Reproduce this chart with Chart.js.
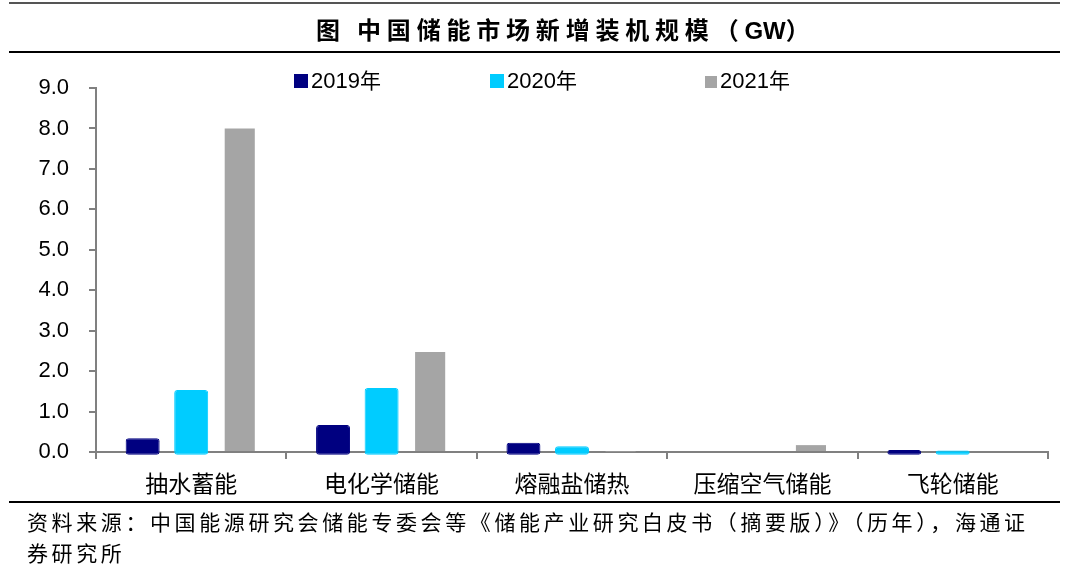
<!DOCTYPE html>
<html>
<head>
<meta charset="utf-8">
<script src="https://cdn.jsdelivr.net/npm/chart.js@4/dist/chart.umd.min.js"></script>
<style>
  body { margin: 0; background: #fff; }
  #wrap { position: relative; width: 1080px; height: 574px; overflow: hidden; background: #fff; }
  #myChart { position: absolute; left: 0; top: 0; }
  .rule { position: absolute; left: 9px; width: 1051px; background: #000; }
  #title { position: absolute; left: 316px; top: 11px; white-space: nowrap;
           font: bold 24px "Noto Sans CJK SC", sans-serif; color: #000; letter-spacing: 5.8px; }
  #title b { font-family: "Liberation Sans", Arial, sans-serif; letter-spacing: 0; }
  .leg { position: absolute; top: 64px; font: 22px "Liberation Sans", Arial, sans-serif; color: #000; white-space: nowrap; }
  .leg span.box { display: inline-block; width: 14px; height: 14px; margin-right: 3px; vertical-align: 0px; }
  .leg .cjk { font-family: "Noto Sans CJK SC", sans-serif; font-size: 21px; }
  #source { position: absolute; left: 27px; top: 506px; width: 1050px; font: 21px "Noto Sans CJK SC", sans-serif;
            color: #000; line-height: 31px; letter-spacing: 3.6px; white-space: nowrap; }
</style>
</head>
<body>
<div id="wrap">
  <canvas id="myChart" width="1080" height="574"></canvas>
  <div class="rule" style="top:2px;height:2px;background:#555"></div>
  <div id="title">图&nbsp;中国储能市场新增装机规模（<b>GW</b>）</div>
  <div class="rule" style="top:51px;height:2px"></div>
  <div class="leg" style="left:294px"><span class="box" style="background:#000080"></span>2019<span class="cjk">年</span></div>
  <div class="leg" style="left:490px"><span class="box" style="background:#00CCFF"></span>2020<span class="cjk">年</span></div>
  <div class="leg" style="left:705px"><span class="box" style="background:#A5A5A5;width:12px;height:12px"></span>2021<span class="cjk">年</span></div>
  <div class="rule" style="top:501px;height:2px"></div>
  <div id="source">资料来源：中国能源研究会储能专委会等《储能产业研究白皮书（摘要版）》（历年），海通证<br>券研究所</div>
</div>
<script>
'use strict';

const categories = ['抽水蓄能', '电化学储能', '熔融盐储热', '压缩空气储能', '飞轮储能'];
const seriesNames = ['2019年', '2020年', '2021年'];
const values2019 = [0.34, 0.67, 0.23, 0, 0.05];
const values2020 = [1.53, 1.58, 0.14, 0, 0.04];
const values2021 = [8.0, 2.47, 0.01, 0.17, 0];
const yTicks = [0, 1, 2, 3, 4, 5, 6, 7, 8, 9];

const axisColor = '#808080';

// the blue bars in the original sit a few pixels below the axis line
function blueBars(label, data, color) {
    return {
        label: label,
        data: data.map(function(v) { return v > 0 ? v : null; }),
        base: -0.07,
        clip: false,
        backgroundColor: color,
        borderColor: color,
        borderWidth: 1,
        borderRadius: 3,
        borderSkipped: false,
        barPercentage: 0.7,
        categoryPercentage: 0.765,
    };
}

const chart = document.getElementById('myChart');
const myChart = new Chart(chart, {
    type: 'bar',
    data: {
        labels: categories,
        datasets: [
            blueBars(seriesNames[0], values2019, '#000080'),
            blueBars(seriesNames[1], values2020, '#00CCFF'),
            {
                label: seriesNames[2],
                data: values2021,
                backgroundColor: '#A5A5A5',
                barPercentage: 0.62,
                categoryPercentage: 0.765,
            },
        ],
    },
    options: {
        responsive: false,
        animation: false,
        layout: {
            padding: { top: 88, left: 0, right: 32, bottom: 72 },
        },
        plugins: {
            legend: { display: false },
            tooltip: { enabled: false },
        },
        scales: {
            x: {
                border: { color: axisColor, width: 2 },
                grid: { display: true, drawOnChartArea: false, offset: true, tickLength: 7, color: axisColor, lineWidth: 2 },
                ticks: {
                    color: '#000',
                    padding: 10,
                    font: { family: '"Noto Sans CJK SC", sans-serif', size: 23 },
                },
                afterFit: function(scale) { scale.height = 50; },
            },
            y: {
                min: 0,
                max: 9,
                afterBuildTicks: function(scale) {
                    scale.ticks = yTicks.map(function(v) { return { value: v }; });
                },
                border: { color: axisColor, width: 2 },
                grid: { display: true, drawOnChartArea: false, tickLength: 7, color: axisColor, lineWidth: 2 },
                ticks: {
                    color: '#000',
                    padding: 20,
                    font: { family: '"Liberation Sans", Arial, sans-serif', size: 22 },
                    callback: function(v) { return Number(v).toFixed(1); },
                },
                afterFit: function(scale) { scale.width = 96; },
            },
        },
    },
});
</script>
</body>
</html>
